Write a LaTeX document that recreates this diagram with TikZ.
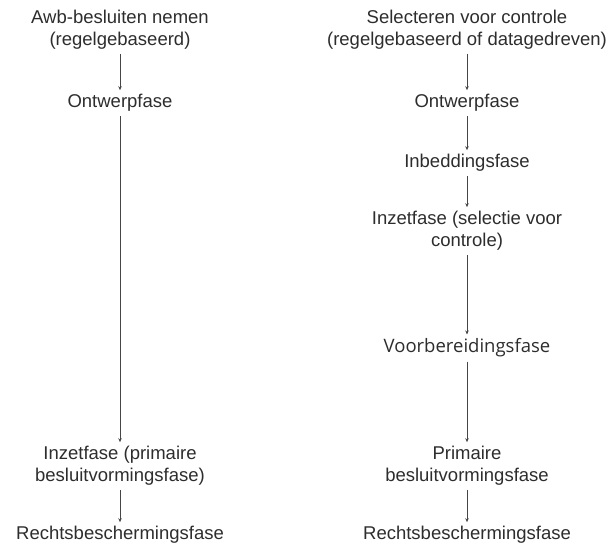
\documentclass[tikz,border=0pt]{standalone}
\usepackage{fontspec}
\setmainfont{Liberation Sans}
\newfontfamily\altfont{Open Sans}
\usetikzlibrary{arrows.meta}
\definecolor{textColor}{RGB}{45,45,45}
\definecolor{arrowColor}{RGB}{70,70,70}
\tikzstyle{phase} = [align=center, text=textColor, inner sep=4pt, font=\fontsize{18.5}{22}\selectfont]
\tikzstyle{phaseAlt} = [phase, font=\altfont\fontsize{18.5}{22}\selectfont]
\tikzstyle{phaseArrow} = [color=arrowColor, line width=.8pt, -{Stealth[length=4pt, width=3.5pt]}]
\newcommand{\phaseStep}[2]{\draw [phaseArrow] (#1) -- (#2);}

\begin{document}
\begin{tikzpicture}[x=1pt, y=-1pt]
  \useasboundingbox (0,0) rectangle (613,545);
  % left column
  \node [phase] (leftStart) at (120,30) {Awb-besluiten nemen\\(regelgebaseerd)};
  \node [phase] (leftDesign) at (120,103) {Ontwerpfase};
  \node [phase] (leftDeploy) at (120,466) {Inzetfase (primaire\\besluitvormingsfase)};
  \node [phase] (leftAppeal) at (120,535) {Rechtsbeschermingsfase};
  \phaseStep{leftStart}{leftDesign}
  \phaseStep{leftDesign}{leftDeploy}
  \phaseStep{leftDeploy}{leftAppeal}
  % right column
  \node [phase] (rightStart) at (467,30) {Selecteren voor controle\\(regelgebaseerd of datagedreven)};
  \node [phase] (rightDesign) at (467,103) {Ontwerpfase};
  \node [phase] (rightEmbed) at (467,163) {Inbeddingsfase};
  \node [phase] (rightDeploy) at (467,231) {Inzetfase (selectie voor\\controle)};
  \node [phaseAlt] (rightPrepare) at (467,348) {Voorbereidingsfase};
  \node [phase] (rightDecide) at (467,466) {Primaire\\besluitvormingsfase};
  \node [phase] (rightAppeal) at (467,535) {Rechtsbeschermingsfase};
  \phaseStep{rightStart}{rightDesign}
  \phaseStep{rightDesign}{rightEmbed}
  \phaseStep{rightEmbed}{rightDeploy}
  \phaseStep{rightDeploy}{rightPrepare}
  \phaseStep{rightPrepare}{rightDecide}
  \phaseStep{rightDecide}{rightAppeal}
\end{tikzpicture}
\end{document}
